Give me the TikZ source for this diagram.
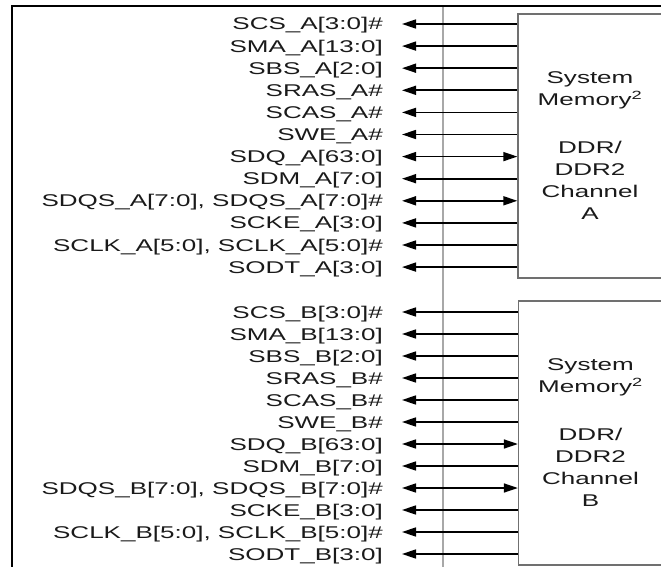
\documentclass[tikz,border=0pt]{standalone}
\usepackage{fontspec}
\setmainfont[FakeStretch=1.53]{Liberation Sans}
\usetikzlibrary{arrows.meta}
\definecolor{txt}{HTML}{1A1A1A}
\definecolor{boxc}{HTML}{707070}
\definecolor{divc}{HTML}{A8A8A8}
\begin{document}
\begin{tikzpicture}[x=1pt,y=-1pt,
  lab/.style={anchor=east, inner sep=0pt, text height=12pt, text depth=0pt, text=txt,
    font=\fontsize{17}{21}\selectfont},
  membox/.style={draw=boxc, line width=1.3pt, minimum width=144pt, minimum height=264pt,
    inner sep=0pt, align=center, text=txt, font=\fontsize{17}{22}\selectfont},
  tip/.tip={Triangle[length=14pt,width=9pt]},
  sig/.style={line width=1.6pt, -tip, shorten >=19pt},
  bidir/.style={line width=1.6pt, tip-tip, shorten >=19pt}
]
\useasboundingbox (0,0) rectangle (661,567);
% frame
\draw[divc, line width=2pt] (443,6) -- (443,567);
\draw[black, line width=2.6pt] (12,567) -- (12,6) -- (661,6);
% boxes
\node[membox] (boxA) at (590,146) {System\\Memory\textsuperscript{2}\\[26pt]DDR/\\DDR2\\Channel\\A};
\node[membox] (boxB) at (590.5,433) {System\\Memory\textsuperscript{2}\\[26pt]DDR/\\DDR2\\Channel\\B};
% channel A signals
\foreach \t [count=\i from 0] in {SCS\_A[3:0]\#, SMA\_A[13:0], SBS\_A[2:0], SRAS\_A\#, SCAS\_A\#, SWE\_A\#,
  SDQ\_A[63:0], SDM\_A[7:0], {SDQS\_A[7:0], SDQS\_A[7:0]\#}, SCKE\_A[3:0], {SCLK\_A[5:0], SCLK\_A[5:0]\#}, SODT\_A[3:0]} {
  \node[lab] (lA\i) at (383, 24+22.1*\i) {\t};
}
\foreach \i in {0,1,2,3,4,5,7,9,10,11} {\draw[sig] (boxA.west |- lA\i.east) -- (lA\i.east);}
\foreach \i in {6,8} {\draw[bidir] (boxA.west |- lA\i.east) -- (lA\i.east);}
% channel B signals
\foreach \t [count=\i from 0] in {SCS\_B[3:0]\#, SMA\_B[13:0], SBS\_B[2:0], SRAS\_B\#, SCAS\_B\#, SWE\_B\#,
  SDQ\_B[63:0], SDM\_B[7:0], {SDQS\_B[7:0], SDQS\_B[7:0]\#}, SCKE\_B[3:0], {SCLK\_B[5:0], SCLK\_B[5:0]\#}, SODT\_B[3:0]} {
  \node[lab] (lB\i) at (383, 312+22.0*\i) {\t};
}
\foreach \i in {0,1,2,3,4,5,7,9,10,11} {\draw[sig] (boxB.west |- lB\i.east) -- (lB\i.east);}
\foreach \i in {6,8} {\draw[bidir] (boxB.west |- lB\i.east) -- (lB\i.east);}
\end{tikzpicture}
\end{document}
